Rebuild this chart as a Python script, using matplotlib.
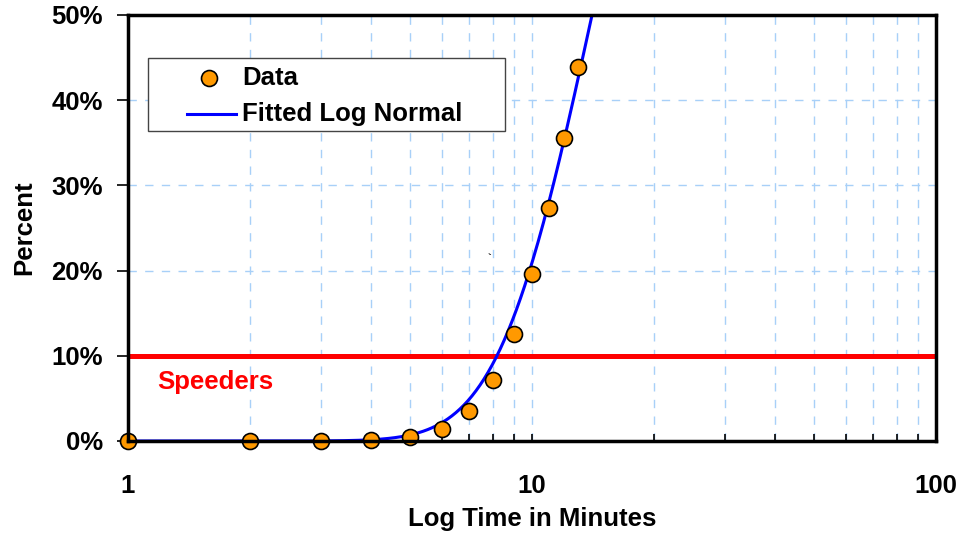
import math
import numpy as np
import matplotlib.pyplot as plt
from matplotlib.patches import Rectangle
from matplotlib.lines import Line2D
from matplotlib.ticker import FixedLocator, NullFormatter, FuncFormatter

# observed cumulative percent vs. elapsed minutes
minutes = [1, 2, 3, 4, 5, 6, 7, 8, 9, 10, 11, 12, 13]
percent = [0.0, 0.0, 0.0, 0.1, 0.5, 1.4, 3.5, 7.2, 12.6, 19.6, 27.3, 35.6, 43.9]

# log-normal fit parameters (median in minutes, shape)
fit_median = 14.08
fit_sigma = 0.423

speed_limit = 10  # percent

FS = 18.5
plt.rcParams['font.family'] = ['Liberation Sans', 'DejaVu Sans']
plt.rcParams['font.weight'] = 'bold'

fig = plt.figure(figsize=(9.61, 5.33), dpi=100)
ax = fig.add_axes([128 / 961, 1 - 441 / 533, (936 - 128) / 961, (441 - 15) / 533])

t = np.logspace(0, 2, 600)
fit = np.array([50 * (1 + math.erf(math.log(v / fit_median) / (fit_sigma * math.sqrt(2)))) for v in t])

ax.axhline(speed_limit, color='#ff0000', lw=3.6, zorder=3)
ax.plot(t, fit, color='#0000ff', lw=2.2, zorder=4)
ax.plot(minutes, percent, 'o', ms=11.5, mfc='#ff9900', mec='black', mew=1.2,
        zorder=5, clip_on=False)

ax.set_xscale('log')
ax.set_xlim(1, 100)
ax.set_ylim(0, 50)

ax.xaxis.set_major_locator(FixedLocator([1, 10, 100]))
ax.xaxis.set_major_formatter(FuncFormatter(lambda v, p: f'{v:g}'))
ax.xaxis.set_minor_locator(FixedLocator([2, 3, 4, 5, 6, 7, 8, 9, 20, 30, 40, 50, 60, 70, 80, 90]))
ax.xaxis.set_minor_formatter(NullFormatter())
ax.set_yticks([0, 10, 20, 30, 40, 50])
ax.yaxis.set_major_formatter(FuncFormatter(lambda v, p: f'{v:.0f}%'))

ax.tick_params(axis='x', which='both', direction='in', length=5, width=1.2,
               labelsize=FS, pad=24, top=False)
ax.tick_params(axis='y', which='major', direction='out', length=8, width=1.2,
               labelsize=FS, pad=10, right=False)

gcol = '#a8d0f8'
ax.grid(True, which='both', axis='x', color=gcol, ls=(0, (6, 6)), lw=1)
ax.grid(True, which='major', axis='y', color=gcol, ls=(0, (6, 6)), lw=1)
ax.set_axisbelow(True)

for s in ax.spines.values():
    s.set_linewidth(2.5)
    s.set_zorder(6)

ax.set_xlabel('Log Time in Minutes', fontsize=FS, fontweight='bold', labelpad=6)
ax.set_ylabel('Percent', fontsize=FS, fontweight='bold', labelpad=11)

ax.text(1.18, 6.9, 'Speeders', color='#ff0000', fontsize=FS, fontweight='bold', va='center')
ax.text(7.75, 21.1, '`', fontsize=8, color='black')

# legend box drawn by hand for the wide side padding
tr = ax.transAxes
ax.add_patch(Rectangle((0.0248, 0.728), 0.4418, 0.171, transform=tr, fill=True,
                       facecolor='white', edgecolor='#444444', lw=1.0, zorder=7))
ax.add_line(Line2D([0.1002], [0.853], transform=tr, marker='o', ms=11.5,
                   mfc='#ff9900', mec='black', mew=1.2, zorder=8))
ax.add_line(Line2D([0.073, 0.1337], [0.768, 0.768], transform=tr,
                   color='#0000ff', lw=2.2, zorder=8))
ax.text(0.141, 0.853, 'Data', transform=tr, fontsize=FS, fontweight='bold',
        va='center', ha='left', zorder=8)
ax.text(0.141, 0.768, 'Fitted Log Normal', transform=tr, fontsize=FS, fontweight='bold',
        va='center', ha='left', zorder=8)

fig.savefig('out.png', dpi=100)
